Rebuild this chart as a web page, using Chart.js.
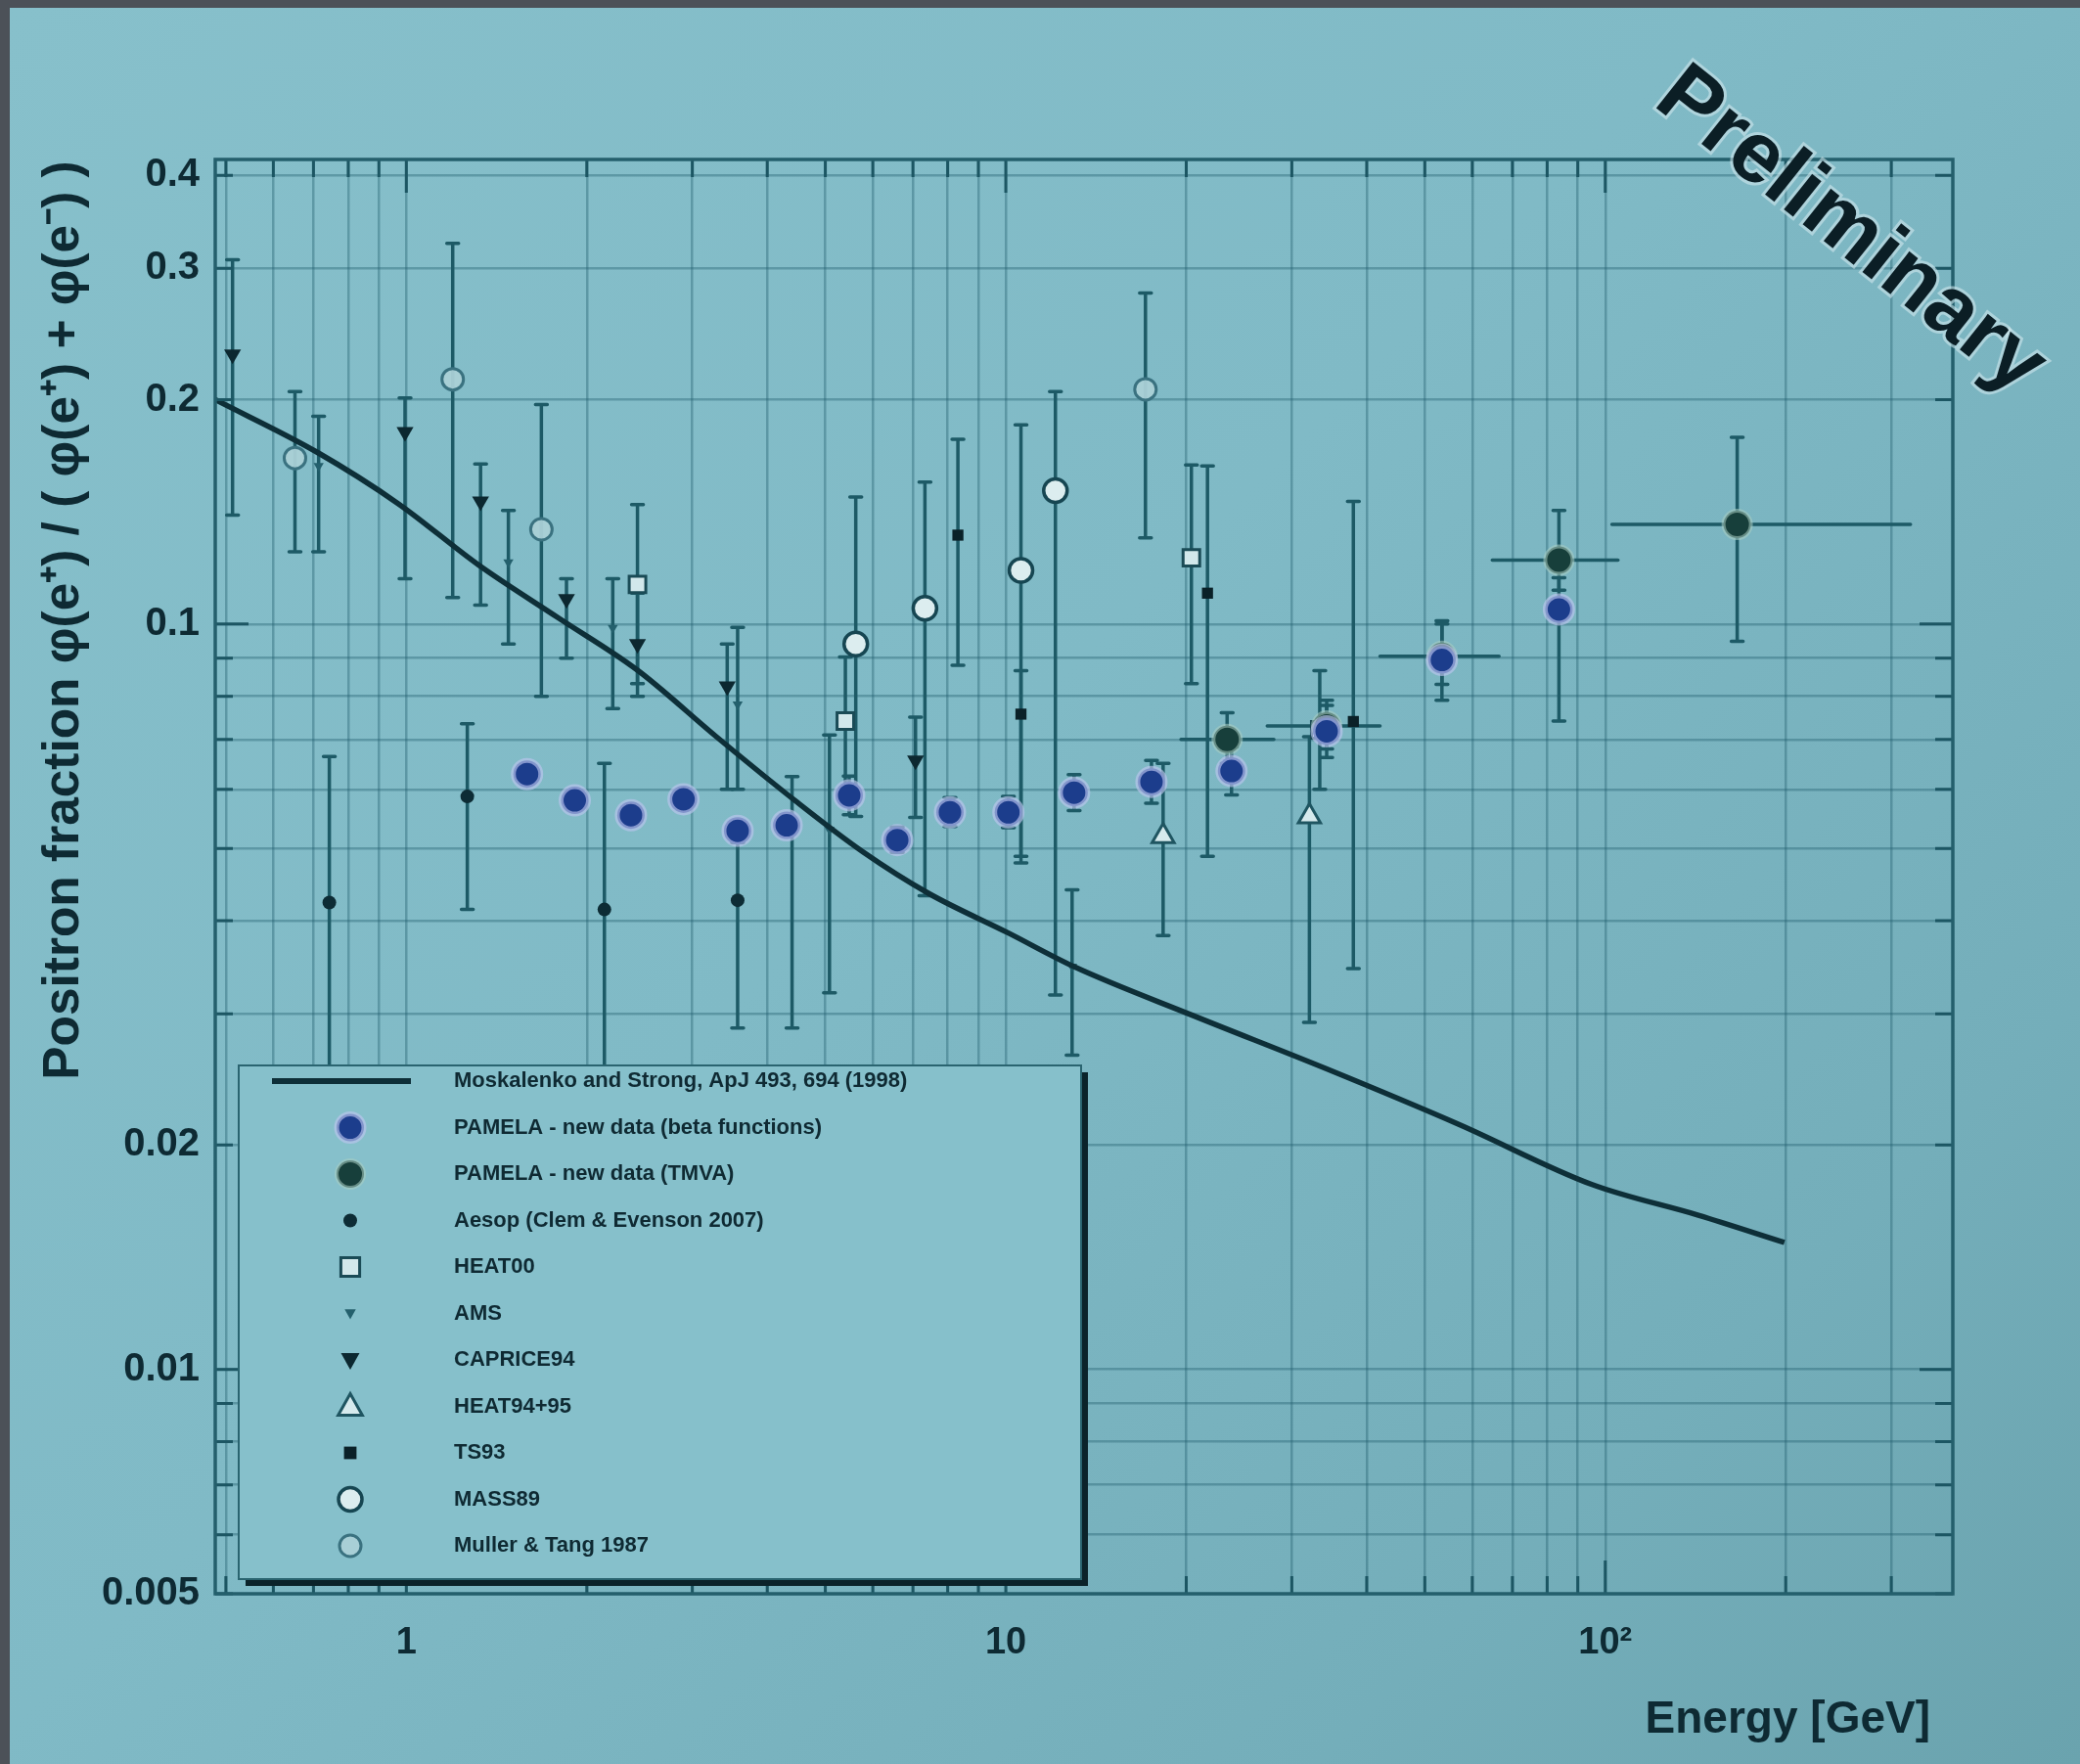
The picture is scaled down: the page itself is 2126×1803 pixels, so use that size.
<!DOCTYPE html>
<html>
<head>
<meta charset="utf-8">
<title>Positron fraction - PAMELA preliminary</title>
<script src="https://cdn.jsdelivr.net/npm/chart.js@4.4.0/dist/chart.umd.min.js"></script>
<style>
    html, body { margin: 0; padding: 0; }
    body { width: 2126px; height: 1803px; background: #4c5158; overflow: hidden; position: relative; }
    #bg { position: absolute; left: 10px; top: 8px; right: 0; bottom: 0;
          background: linear-gradient(135deg, #87c0cb 0%, #80bac6 45%, #74aeba 80%, #6aa3ae 100%); }
    #chart { position: absolute; left: 0; top: 0; }
</style>
</head>
<body>
<div id="bg"></div>
<canvas id="chart" width="2126" height="1803"></canvas>
<script>
// Axis ticks
const xTickValues = [1, 10, 100];
const xTickLabels = ['1', '10', '10\u00b2'];
const yTickValues = [0.4, 0.3, 0.2, 0.1, 0.02, 0.01, 0.005];
const yTickLabels = ['0.4', '0.3', '0.2', '0.1', '0.02', '0.01', '0.005'];

// Moskalenko & Strong secondary production curve
const modelEnergy   = [0.48, 0.71, 0.97, 1.32, 1.79, 2.43, 3.29, 4.47, 5.77, 7.44, 10.1, 13.0, 20.6, 34.3, 57.1, 95.1, 143, 199];
const modelFraction = [0.200, 0.170, 0.145, 0.120, 0.102, 0.0867, 0.0706, 0.0578, 0.0495, 0.0435, 0.0385, 0.0347, 0.0298, 0.0253, 0.0213, 0.0177, 0.0161, 0.0148];

// PAMELA - new data (beta functions)
const pamelaE  = [1.59, 1.91, 2.37, 2.90, 3.57, 4.31, 5.48, 6.59, 8.07, 10.1, 13.0, 17.5, 23.8, 34.3, 53.4, 83.7];
const pamelaF  = [0.0629, 0.0580, 0.0554, 0.0582, 0.0528, 0.0537, 0.0589, 0.0513, 0.0559, 0.0559, 0.0594, 0.0614, 0.0635, 0.0718, 0.0895, 0.1046];
const pamelaLo = [0.0612, 0.0566, 0.0540, 0.0566, 0.0513, 0.0520, 0.0555, 0.0494, 0.0535, 0.0533, 0.0562, 0.0575, 0.0590, 0.0662, 0.0790, 0.0741];
const pamelaHi = [0.0646, 0.0595, 0.0569, 0.0598, 0.0544, 0.0555, 0.0625, 0.0534, 0.0585, 0.0587, 0.0628, 0.0656, 0.0684, 0.0778, 0.1010, 0.1154];

// PAMELA - new data (TMVA)
const tmvaE   = [23.4, 34.3, 53.4, 83.7, 166];
const tmvaF   = [0.0700, 0.0730, 0.0905, 0.1218, 0.136];
const tmvaLo  = [0.0650, 0.0680, 0.0830, 0.1110, 0.0948];
const tmvaHi  = [0.0760, 0.0790, 0.1000, 0.1420, 0.178];
const tmvaELo = [19.6, 27.3, 42.1, 64.8, 102.6];
const tmvaEHi = [28.0, 42.1, 66.5, 105, 323];

// Older measurements
const aesopE  = [0.744, 1.264, 2.14, 3.57];
const aesopF  = [0.0423, 0.0587, 0.0414, 0.0426];
const aesopLo = [0.022, 0.0414, 0.022, 0.0287];
const aesopHi = [0.0664, 0.0735, 0.0650, 0.0509];

const heat00E  = [2.43, 5.40, 20.4, 33.4];
const heat00F  = [0.113, 0.0741, 0.1227, 0.0721];
const heat00Lo = [0.0832, 0.060, 0.0832, 0.060];
const heat00Hi = [0.1446, 0.0903, 0.1635, 0.0866];

const amsE  = [0.714, 1.48, 2.21, 3.57, 4.40, 5.08, 12.9];
const amsF  = [0.163, 0.121, 0.0988, 0.078, 0.0537, 0.053, 0.0347];
const amsLo = [0.125, 0.094, 0.077, 0.060, 0.0287, 0.032, 0.0264];
const amsHi = [0.190, 0.142, 0.115, 0.099, 0.0624, 0.071, 0.044];

const capriceE  = [0.513, 0.995, 1.33, 1.85, 2.43, 3.43, 7.07];
const capriceF  = [0.230, 0.181, 0.146, 0.108, 0.094, 0.0825, 0.0656];
const capriceLo = [0.140, 0.115, 0.106, 0.090, 0.080, 0.060, 0.055];
const capriceHi = [0.308, 0.201, 0.164, 0.115, 0.110, 0.094, 0.075];

const heat9495E  = [18.3, 32.1];
const heat9495F  = [0.0519, 0.0552];
const heat9495Lo = [0.0382, 0.0292];
const heat9495Hi = [0.0650, 0.0706];

const ts93E  = [8.32, 10.6, 21.7, 38.0];
const ts93F  = [0.1316, 0.0757, 0.110, 0.074];
const ts93Lo = [0.088, 0.0478, 0.0488, 0.0345];
const ts93Hi = [0.177, 0.0866, 0.163, 0.146];

const mass89E  = [5.62, 7.33, 10.6, 12.1];
const mass89F  = [0.094, 0.105, 0.118, 0.151];
const mass89Lo = [0.0552, 0.0432, 0.0488, 0.0318];
const mass89Hi = [0.148, 0.155, 0.185, 0.205];

const mullerE  = [0.652, 1.195, 1.68, 17.1];
const mullerF  = [0.167, 0.213, 0.134, 0.2065];
const mullerLo = [0.125, 0.1085, 0.080, 0.1305];
const mullerHi = [0.205, 0.324, 0.197, 0.278];

const INK = '#0e2f38';
const BAR = '#1d5a66';
const FONT = '"Liberation Sans", Arial, sans-serif';

// log grid: 1..9 times each decade inside the axis range
function logGrid(min, max) {
    const out = [];
    for (let d = Math.floor(Math.log10(min)); d <= Math.ceil(Math.log10(max)); d++) {
        for (let m = 1; m <= 9; m++) {
            const v = m * Math.pow(10, d);
            if (v >= min * 0.999 && v <= max * 1.001) out.push(+v.toPrecision(6));
        }
    }
    return out;
}

function points(E, F, lo, hi, eLo, eHi) {
    return E.map((e, i) => ({
        x: e, y: F[i],
        yl: lo ? lo[i] : null, yh: hi ? hi[i] : null,
        xl: eLo ? eLo[i] : null, xh: eHi ? eHi[i] : null
    }));
}

function labelFor(values, labels, v) {
    const i = values.findIndex(t => Math.abs(t - v) / t < 1e-6);
    return i >= 0 ? labels[i] : '';
}

// vertical / horizontal error bars, drawn under the markers
const errorBars = {
    id: 'errorBars',
    beforeDatasetsDraw(chart) {
        const { ctx, chartArea: a, scales: { x, y } } = chart;
        ctx.save();
        ctx.beginPath();
        ctx.rect(a.left, a.top, a.width, a.height);
        ctx.clip();
        ctx.strokeStyle = BAR;
        ctx.lineWidth = 3.5;
        ctx.lineCap = 'round';
        chart.data.datasets.forEach(ds => {
            if (!ds.errorBars) return;
            ds.data.forEach(p => {
                const px = x.getPixelForValue(p.x);
                const py = y.getPixelForValue(p.y);
                if (p.yl != null && p.yh != null) {
                    const t = y.getPixelForValue(p.yh), b = y.getPixelForValue(p.yl);
                    ctx.beginPath();
                    ctx.moveTo(px, t); ctx.lineTo(px, b);
                    ctx.moveTo(px - 6, t); ctx.lineTo(px + 6, t);
                    ctx.moveTo(px - 6, b); ctx.lineTo(px + 6, b);
                    ctx.stroke();
                }
                if (p.xl != null && p.xh != null) {
                    const l = x.getPixelForValue(p.xl), r = x.getPixelForValue(p.xh);
                    ctx.beginPath();
                    ctx.moveTo(l, py); ctx.lineTo(r, py);
                    ctx.stroke();
                }
            });
        });
        ctx.restore();
    }
};

// frame and inward tick marks
const frame = {
    id: 'frame',
    afterDatasetsDraw(chart) {
        const { ctx, chartArea: a, scales: { x, y } } = chart;
        ctx.save();
        ctx.strokeStyle = '#1c5663';
        ctx.lineWidth = 3;
        x.ticks.forEach(t => {
            const px = x.getPixelForValue(t.value);
            const len = xTickValues.some(v => Math.abs(v - t.value) / v < 1e-6) ? 34 : 18;
            ctx.beginPath();
            ctx.moveTo(px, a.bottom); ctx.lineTo(px, a.bottom - len);
            ctx.moveTo(px, a.top); ctx.lineTo(px, a.top + len);
            ctx.stroke();
        });
        y.ticks.forEach(t => {
            const py = y.getPixelForValue(t.value);
            const major = [0.01, 0.1].some(v => Math.abs(v - t.value) / v < 1e-6);
            const len = major ? 34 : 18;
            ctx.beginPath();
            ctx.moveTo(a.left, py); ctx.lineTo(a.left + len, py);
            ctx.moveTo(a.right, py); ctx.lineTo(a.right - len, py);
            ctx.stroke();
        });
        ctx.strokeStyle = '#245f6c';
        ctx.lineWidth = 3.5;
        ctx.strokeRect(a.left, a.top, a.width, a.height);
        ctx.restore();
    }
};

function drawMarker(ctx, ds, cx, cy) {
    const r = ds.pointRadius;
    ctx.save();
    ctx.translate(cx, cy);
    ctx.rotate((ds.pointRotation || 0) * Math.PI / 180);
    ctx.beginPath();
    if (ds.pointStyle === 'rect') {
        ctx.rect(-r * 0.8, -r * 0.8, r * 1.6, r * 1.6);
    } else if (ds.pointStyle === 'triangle') {
        ctx.moveTo(0, -r);
        ctx.lineTo(r * 0.95, r * 0.7);
        ctx.lineTo(-r * 0.95, r * 0.7);
        ctx.closePath();
    } else {
        ctx.arc(0, 0, r, 0, Math.PI * 2);
    }
    ctx.fillStyle = ds.pointBackgroundColor;
    ctx.fill();
    if (ds.pointBorderWidth) {
        ctx.lineWidth = ds.pointBorderWidth;
        ctx.strokeStyle = ds.pointBorderColor;
        ctx.stroke();
    }
    ctx.restore();
}

// legend box inside the plot, bottom left
const legendBox = {
    id: 'legendBox',
    afterDraw(chart) {
        const { ctx, chartArea: a } = chart;
        const left = a.left + 24, top = a.bottom - 540, right = a.left + 885, bottom = a.bottom - 15;
        ctx.save();
        ctx.fillStyle = '#0b232a';
        ctx.fillRect(left + 7, top + 7, right - left, bottom - top);
        ctx.fillStyle = '#86c0cb';
        ctx.fillRect(left, top, right - left, bottom - top);
        ctx.strokeStyle = '#2a6470';
        ctx.lineWidth = 2;
        ctx.strokeRect(left, top, right - left, bottom - top);

        ctx.font = 'bold 22px ' + FONT;
        ctx.textBaseline = 'middle';
        ctx.fillStyle = '#0f2a33';
        chart.data.datasets.forEach((ds, i) => {
            const cy = top + 16 + i * 47.5;
            if (ds.type === 'line') {
                ctx.strokeStyle = ds.borderColor;
                ctx.lineWidth = 6;
                ctx.beginPath();
                ctx.moveTo(left + 34, cy); ctx.lineTo(left + 176, cy);
                ctx.stroke();
            } else {
                drawMarker(ctx, ds, left + 114, cy);
            }
            ctx.fillStyle = '#0f2a33';
            ctx.fillText(ds.label, left + 220, cy);
        });
        ctx.restore();
    }
};

// axis titles and the "Preliminary" stamp
const titles = {
    id: 'titles',
    afterDraw(chart) {
        const { ctx, chartArea: a } = chart;
        ctx.save();
        ctx.fillStyle = '#0e2a33';
        ctx.textBaseline = 'middle';

        ctx.font = 'bold 46px ' + FONT;
        ctx.textAlign = 'right';
        ctx.fillText('Energy [GeV]', 1973, 1758);

        const yTitle = 'Positron fraction \u03c6(e\u207a) / ( \u03c6(e\u207a) + \u03c6(e\u207b) )';
        let size = 36;
        ctx.font = 'bold ' + size + 'px ' + FONT;
        size = size * 940 / ctx.measureText(yTitle).width;
        ctx.font = 'bold ' + size.toFixed(1) + 'px ' + FONT;
        ctx.translate(66, 634);
        ctx.rotate(-Math.PI / 2);
        ctx.textAlign = 'center';
        ctx.fillText(yTitle, 0, 0);
        ctx.restore();

        ctx.save();
        ctx.translate(1891, 237);
        ctx.rotate(38.5 * Math.PI / 180);
        ctx.font = 'bold 88px ' + FONT;
        ctx.textAlign = 'center';
        ctx.textBaseline = 'middle';
        ctx.lineWidth = 6;
        ctx.strokeStyle = 'rgba(215,235,240,0.55)';
        ctx.strokeText('Preliminary', 0, 0);
        ctx.fillStyle = '#0b1e25';
        ctx.fillText('Preliminary', 0, 0);
        ctx.restore();
    }
};

const gridColor = 'rgba(32, 92, 108, 0.38)';
const xGrid = logGrid(0.48, 380);
const yGrid = logGrid(0.005, 0.42);

const ctx = document.getElementById('chart').getContext('2d');
const chart = new Chart(ctx, {
    type: 'scatter',
    data: {
        datasets: [{
            type: 'line',
            label: 'Moskalenko and Strong, ApJ 493, 694 (1998)',
            data: modelEnergy.map((e, i) => ({ x: e, y: modelFraction[i] })),
            borderColor: INK,
            borderWidth: 5.5,
            pointRadius: 0,
            cubicInterpolationMode: 'monotone',
            order: 2
        }, {
            label: 'PAMELA - new data (beta functions)',
            data: points(pamelaE, pamelaF, pamelaLo, pamelaHi),
            errorBars: true,
            pointStyle: 'circle', pointRadius: 14,
            pointBackgroundColor: '#1c3d8c', pointBorderColor: 'rgba(188, 196, 238, 0.65)', pointBorderWidth: 5,
            order: 0
        }, {
            label: 'PAMELA - new data (TMVA)',
            data: points(tmvaE, tmvaF, tmvaLo, tmvaHi, tmvaELo, tmvaEHi),
            errorBars: true,
            pointStyle: 'circle', pointRadius: 14,
            pointBackgroundColor: '#173f3b', pointBorderColor: 'rgba(170, 205, 195, 0.55)', pointBorderWidth: 4,
            order: 1
        }, {
            label: 'Aesop (Clem & Evenson 2007)',
            data: points(aesopE, aesopF, aesopLo, aesopHi),
            errorBars: true,
            pointStyle: 'circle', pointRadius: 7,
            pointBackgroundColor: '#0d2c35', pointBorderWidth: 0,
            order: 5
        }, {
            label: 'HEAT00',
            data: points(heat00E, heat00F, heat00Lo, heat00Hi),
            errorBars: true,
            pointStyle: 'rect', pointRadius: 12,
            pointBackgroundColor: '#d2e8eb', pointBorderColor: '#1a4b56', pointBorderWidth: 3,
            order: 6
        }, {
            label: 'AMS',
            data: points(amsE, amsF, amsLo, amsHi),
            errorBars: true,
            pointStyle: 'triangle', pointRotation: 180, pointRadius: 6,
            pointBackgroundColor: '#24606d', pointBorderWidth: 0,
            order: 7
        }, {
            label: 'CAPRICE94',
            data: points(capriceE, capriceF, capriceLo, capriceHi),
            errorBars: true,
            pointStyle: 'triangle', pointRotation: 180, pointRadius: 10,
            pointBackgroundColor: '#0c2830', pointBorderWidth: 0,
            order: 4
        }, {
            label: 'HEAT94+95',
            data: points(heat9495E, heat9495F, heat9495Lo, heat9495Hi),
            errorBars: true,
            pointStyle: 'triangle', pointRadius: 13,
            pointBackgroundColor: '#d6eaed', pointBorderColor: '#1f5561', pointBorderWidth: 3,
            order: 8
        }, {
            label: 'TS93',
            data: points(ts93E, ts93F, ts93Lo, ts93Hi),
            errorBars: true,
            pointStyle: 'rect', pointRadius: 8,
            pointBackgroundColor: '#0a2128', pointBorderWidth: 0,
            order: 3
        }, {
            label: 'MASS89',
            data: points(mass89E, mass89F, mass89Lo, mass89Hi),
            errorBars: true,
            pointStyle: 'circle', pointRadius: 12,
            pointBackgroundColor: '#dcedef', pointBorderColor: '#164652', pointBorderWidth: 3.5,
            order: 9
        }, {
            label: 'Muller & Tang 1987',
            data: points(mullerE, mullerF, mullerLo, mullerHi),
            errorBars: true,
            pointStyle: 'circle', pointRadius: 11,
            pointBackgroundColor: 'rgba(170, 208, 214, 0.95)', pointBorderColor: '#3a7280', pointBorderWidth: 3,
            order: 10
        }]
    },
    options: {
        responsive: false,
        animation: false,
        events: [],
        devicePixelRatio: 1,
        layout: { padding: { top: 163, right: 130, left: 0, bottom: 0 } },
        plugins: { legend: { display: false }, tooltip: { enabled: false } },
        scales: {
            x: {
                type: 'logarithmic',
                min: 0.48, max: 380,
                afterBuildTicks: s => { s.ticks = xGrid.map(v => ({ value: v })); },
                afterFit: s => { s.height = 174; },
                grid: { color: gridColor, lineWidth: 2.5, drawTicks: false },
                border: { display: false },
                ticks: {
                    autoSkip: false, maxRotation: 0, minRotation: 0, padding: 28,
                    color: '#0e2a33', font: { family: FONT, size: 38, weight: 'bold' },
                    callback: v => labelFor(xTickValues, xTickLabels, v)
                }
            },
            y: {
                type: 'logarithmic',
                min: 0.005, max: 0.42,
                afterBuildTicks: s => { s.ticks = yGrid.map(v => ({ value: v })); },
                afterFit: s => { s.width = 220; },
                grid: { color: gridColor, lineWidth: 2.5, drawTicks: false },
                border: { display: false },
                ticks: {
                    autoSkip: false, padding: 16,
                    color: '#0e2a33', font: { family: FONT, size: 40, weight: 'bold' },
                    callback: v => labelFor(yTickValues, yTickLabels, v)
                }
            }
        }
    },
    plugins: [errorBars, frame, legendBox, titles]
});
</script>
</body>
</html>
